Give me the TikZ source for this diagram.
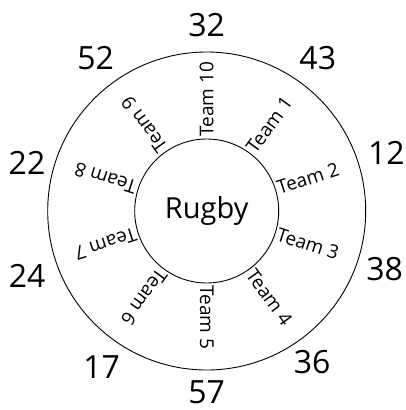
\documentclass[tikz,border=0pt]{standalone}
\usepackage{fontspec}
\setmainfont{Open Sans}
\usetikzlibrary{positioning}

\tikzset{
  team/.style={anchor=west, inner sep=0pt, font=\fontsize{19}{19}\selectfont},
  score/.style={inner sep=0pt, font=\fontsize{32}{32}\selectfont}
}

\begin{document}
\begin{tikzpicture}[x=1pt, y=1pt, line width=0.9pt]
  \useasboundingbox (-206.7,-199) rectangle (199.3,211);
  \node[circle, draw, minimum size=318pt] (ring) at (0,0) {};
  \node[circle, draw, minimum size=144pt, font=\fontsize{29}{29}\selectfont] (rugby) at (0,0) {Rugby};

  \node[team, rotate=54] (1) at (54:74) {Team 1};
  \node[team, rotate=18] (2) at (18:74) {Team 2};
  \node[team, rotate=-18] (3) at (-18:74) {Team 3};
  \node[team, rotate=-54] (4) at (-54:74) {Team 4};
  \node[team, rotate=-90] (5) at (-90:74) {Team 5};
  \node[team, rotate=-126] (6) at (-126:74) {Team 6};
  \node[team, rotate=-162] (7) at (-162:74) {Team 7};
  \node[team, rotate=162] (8) at (162:74) {Team 8};
  \node[team, rotate=126] (9) at (126:74) {Team 9};
  \node[team, rotate=90] (10) at (90:74) {Team 10};

  \node[score] (s1) at (54:189) {43};
  \node[score] (s2) at (18:189) {12};
  \node[score] (s3) at (-18:187) {38};
  \node[score] (s4) at (-55:184) {36};
  \node[score] (s5) at (-90:181) {57};
  \node[score] (s6) at (-124:188) {17};
  \node[score] (s7) at (-160:191) {24};
  \node[score] (s8) at (165:186) {22};
  \node[score] (s9) at (126:189) {52};
  \node[score] (s10) at (90:186) {32};
\end{tikzpicture}
\end{document}
